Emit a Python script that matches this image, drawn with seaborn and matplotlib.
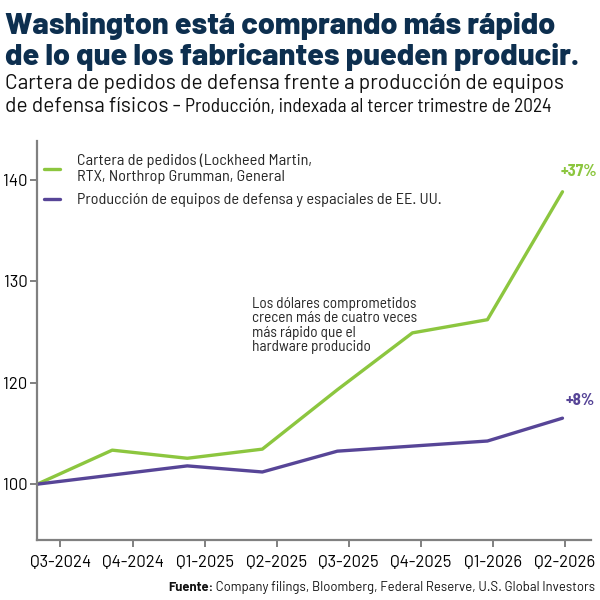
import numpy as np
import pandas as pd
import matplotlib.pyplot as plt
import seaborn as sns

# data
quarters = ['Q3-2024', 'Q4-2024', 'Q1-2025', 'Q2-2025', 'Q3-2025', 'Q4-2025', 'Q1-2026', 'Q2-2026']
backlog = [100, 106.7, 105.1, 106.9, 118.6, 124.9, 126.2, 138.8]
production = [100, 101.8, 103.6, 102.4, 106.5, 107.5, 108.5, 113.0]
yticks = [100, 120, 130, 140]
backlog_name = 'Cartera de pedidos (Lockheed Martin,\nRTX, Northrop Grumman, General'
production_name = 'Producción de equipos de defensa y espaciales de EE. UU.'

GREEN = '#8cc63f'
PURPLE = '#574597'
NAVY = '#0d2f4f'
GREY = '#808080'

WIDE = ['Barlow', 'Barlow Semi Condensed', 'Lato', 'DejaVu Sans']
SEMI = ['Barlow Semi Condensed', 'Barlow Condensed', 'Lato', 'DejaVu Sans']

sns.set_theme(style='ticks')
plt.rcParams['font.family'] = SEMI

df = pd.DataFrame({
    'x': list(range(len(quarters))) * 2,
    'value': backlog + production,
    'serie': [backlog_name] * len(quarters) + [production_name] * len(quarters),
})

fig = plt.figure(figsize=(6, 6), dpi=100)
ax = fig.add_axes([0.062, 0.1, 0.923, 0.665])

# the y axis of the original squeezes 100-120 into the space of 10 points
def fwd(y):
    y = np.asarray(y, dtype=float)
    return np.where(y >= 120, y, 120 - (120 - y) / 2)

def inv(v):
    v = np.asarray(v, dtype=float)
    return np.where(v >= 120, v, 120 - 2 * (120 - v))

sns.lineplot(data=df, x='x', y='value', hue='serie',
             palette=[GREEN, PURPLE], linewidth=2.4, ax=ax)
ax.set_yscale('function', functions=(fwd, inv))
ax.set_ylim(89, 143.8)
ax.set_xlim(0, 7.38)

ax.set_yticks(yticks)
ax.set_yticklabels([str(t) for t in yticks], family=WIDE, fontsize=12)
ax.set_xticks(np.arange(len(quarters)) * 0.96 + 0.31)
ax.set_xticklabels(quarters, family=WIDE, fontsize=12)
ax.minorticks_off()
ax.set_xlabel('')
ax.set_ylabel('')

sns.despine(ax=ax)
for s in ['left', 'bottom']:
    ax.spines[s].set_color(GREY)
    ax.spines[s].set_linewidth(1.6)
ax.tick_params(axis='both', colors=GREY, width=1.4, length=5, labelcolor='black')
ax.tick_params(axis='x', pad=6)
ax.tick_params(axis='y', pad=2)

leg = ax.legend(loc='upper left', bbox_to_anchor=(0.0, 0.985), frameon=False,
                handlelength=1.0, handletextpad=1.05, fontsize=11.7,
                labelspacing=0.55, borderaxespad=0.0, borderpad=0.4)
for line in leg.get_lines():
    line.set_linewidth(2.4)

# end labels
ax.annotate('+37%', xy=(7, backlog[-1]), xytext=(12, 9), textcoords='offset points',
            ha='center', va='bottom', color=GREEN, fontsize=12, fontweight='bold')
ax.annotate('+8%', xy=(7, production[-1]), xytext=(13, 7), textcoords='offset points',
            ha='center', va='bottom', color=PURPLE, fontsize=12, fontweight='bold')

ax.text(0.387, 0.61, 'Los dólares comprometidos\ncrecen más de cuatro veces\nmás rápido que el\nhardware producido',
        transform=ax.transAxes, ha='left', va='top', fontsize=11, linespacing=1.05)

# titles
fig.text(0.009, 0.943, 'Washington está comprando más rápido', ha='left', va='baseline',
         fontsize=22.0, fontweight=800, color=NAVY, family=WIDE)
fig.text(0.009, 0.8917, 'de lo que los fabricantes pueden producir.', ha='left', va='baseline',
         fontsize=22.0, fontweight=800, color=NAVY, family=WIDE)
fig.text(0.008, 0.851, 'Cartera de pedidos de defensa frente a producción de equipos',
         ha='left', va='baseline', fontsize=15, color='#111111', family=WIDE)
t2 = fig.text(0.008, 0.814, 'de defensa físicos - ', ha='left', va='baseline',
              fontsize=15, color='#111111', family=WIDE)

fig.canvas.draw()
r = fig.canvas.get_renderer()
bb = t2.get_window_extent(r)
fig.text(bb.x1 / fig.bbox.width, 0.814, 'Producción, indexada al tercer trimestre de 2024',
         ha='left', va='baseline', fontsize=14, color='#111111')

src = fig.text(0.992, 0.015, ' Company filings, Bloomberg, Federal Reserve, U.S. Global Investors',
               ha='right', va='baseline', fontsize=9.4, color='#111111', family=WIDE)
fig.canvas.draw()
bb = src.get_window_extent(r)
fig.text(bb.x0 / fig.bbox.width, 0.015, 'Fuente:', ha='right', va='baseline',
         fontsize=9.4, fontweight='bold', color='#111111', family=WIDE)

fig.savefig('out.png', dpi=100)
